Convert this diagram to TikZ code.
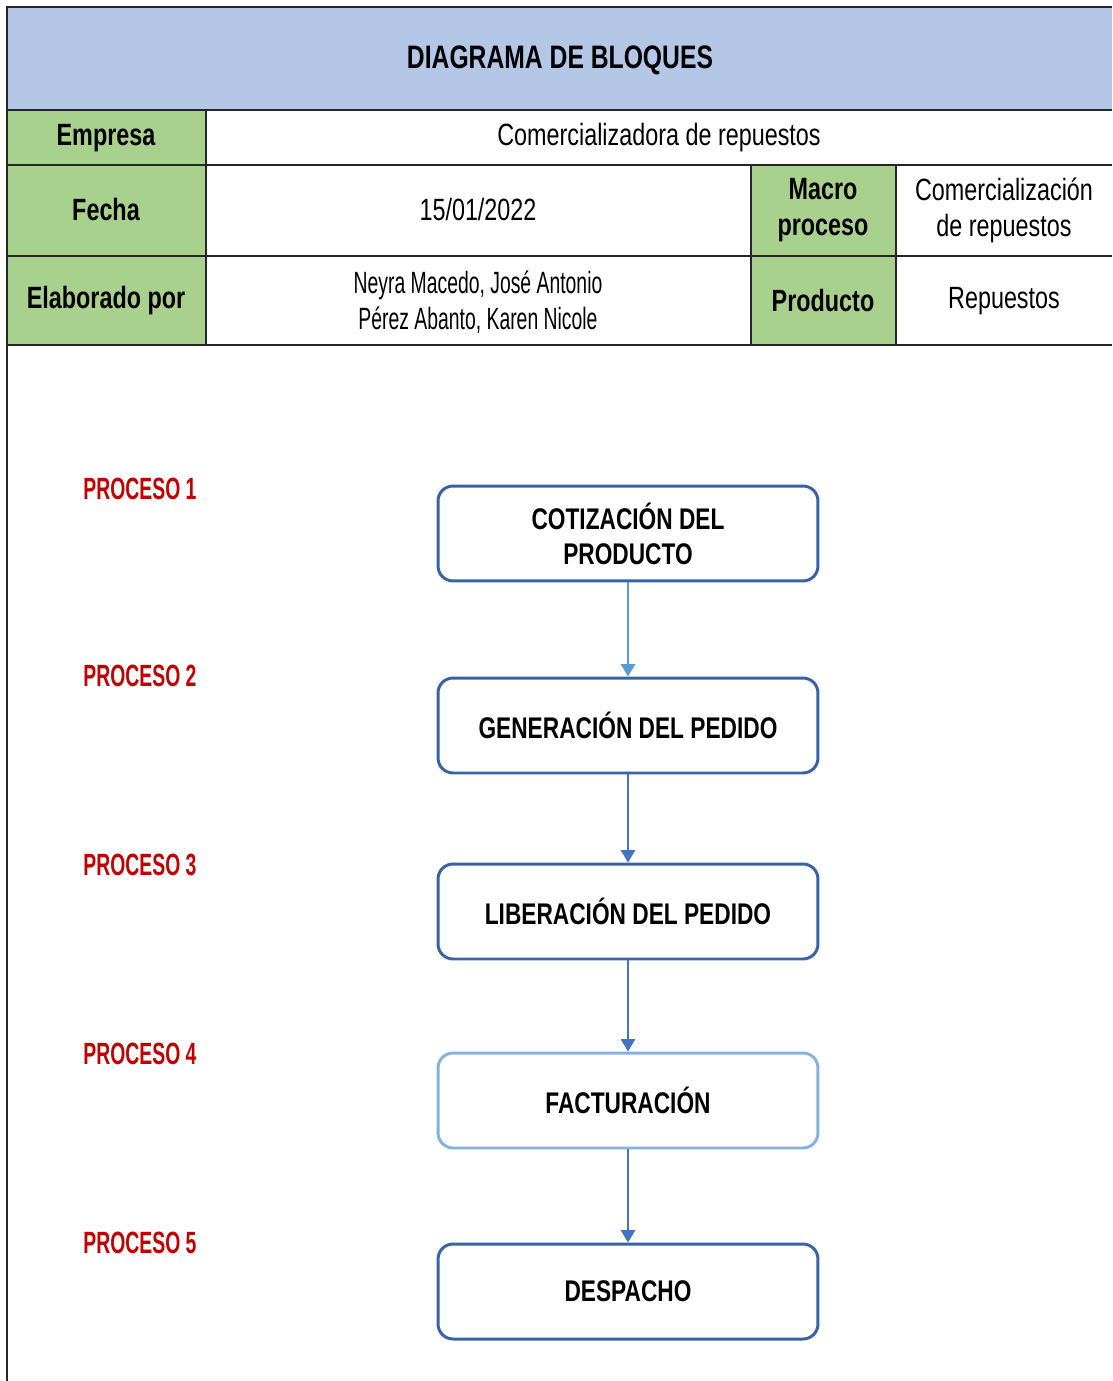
\documentclass[tikz,border=0pt]{standalone}
\usepackage{fontspec}
\setmainfont{Liberation Sans}[FakeStretch=0.76]
\newfontfamily\angosta{Liberation Sans}[FakeStretch=0.63]
\usetikzlibrary{arrows.meta}

\definecolor{cabecera}{HTML}{B4C7E7}
\definecolor{verde}{HTML}{A9D18E}
\definecolor{rojo}{HTML}{C00000}
\definecolor{bordeosc}{HTML}{3A62A7}
\definecolor{bordeclaro}{HTML}{85B2DF}
\definecolor{flechaclara}{HTML}{5B9BD5}
\definecolor{flechaosc}{HTML}{4472C4}

\begin{document}
\begin{tikzpicture}
[x=0.02cm,y=-0.02cm,%
  every node/.style={inner sep=0pt,font=\fontsize{17.5}{20.4}\selectfont},%
  tabla/.style={line width=0.9pt,draw=black!85},%
  titulo/.style={font=\fontsize{18.5}{22}\selectfont\bfseries},%
  campo/.style={font=\fontsize{17.5}{20.4}\selectfont\bfseries,align=center},%
  valor/.style={align=center},%
  nombres/.style={font=\fontsize{17.5}{20.4}\selectfont\angosta,align=center},%
  etiqueta/.style={font=\fontsize{17.5}{20.4}\selectfont\angosta\bfseries,text=rojo},%
  bloque/.style={draw=bordeosc,line width=1.7pt,rounded corners=0.3cm,fill=white,
    minimum width=7.6cm,minimum height=1.9cm,align=center,
    font=\fontsize{17}{20}\selectfont\bfseries},%
  flecha/.style={line width=1.1pt,draw=flechaosc,
    -{Triangle[width=8pt,length=7pt]}}]
\useasboundingbox (0,0) rectangle (1112,1381);

% cabecera
\fill[cabecera] (7,7) rectangle (1112,110);
\fill[verde] (7,110) rectangle (206,345);
\fill[verde] (751,165) rectangle (896,345);
\draw[tabla] (1112,7) -- (7,7) -- (7,1381);
\foreach \y in {110,165,256,345}
  \draw[tabla] (7,\y) -- (1112,\y);
\draw[tabla] (206,110) -- (206,345);
\draw[tabla] (751,165) -- (751,345);
\draw[tabla] (896,165) -- (896,345);

\node[titulo] (titulo) at (560,60) {DIAGRAMA DE BLOQUES};
\node[campo] (empresa) at (106,138) {Empresa};
\node[valor] (empresaV) at (659,138) {Comercializadora de repuestos};
\node[campo] (fecha) at (106,210) {Fecha};
\node[valor] (fechaV) at (478,210) {15/01/2022};
\node[campo] (macro) at (823,210) {Macro\\proceso};
\node[valor] (macroV) at (1004,210) {Comercialización\\de repuestos};
\node[campo] (elaborado) at (106,301) {Elaborado por};
\node[nombres] (elaboradoV) at (478,302) {Neyra Macedo, José Antonio\\Pérez Abanto, Karen Nicole};
\node[campo] (producto) at (823,301) {Producto};
\node[valor] (productoV) at (1004,301) {Repuestos};

% procesos
\node[etiqueta] (p1) at (140,489) {PROCESO 1};
\node[etiqueta] (p2) at (140,676) {PROCESO 2};
\node[etiqueta] (p3) at (140,865) {PROCESO 3};
\node[etiqueta] (p4) at (140,1054) {PROCESO 4};
\node[etiqueta] (p5) at (140,1243) {PROCESO 5};

\node[bloque] (cotizacion) at (628,533.5) {COTIZACIÓN DEL\\PRODUCTO};
\node[bloque] (generacion) at (628,725.5) {GENERACIÓN DEL PEDIDO};
\node[bloque] (liberacion) at (628,911.5) {LIBERACIÓN DEL PEDIDO};
\node[bloque,draw=bordeclaro] (facturacion) at (628,1100.5) {FACTURACIÓN};
\node[bloque] (despacho) at (628,1291.5) {DESPACHO};

\draw[flecha,draw=flechaclara] (cotizacion) -- (generacion);
\draw[flecha] (generacion) -- (liberacion);
\draw[flecha] (liberacion) -- (facturacion);
\draw[flecha] (facturacion) -- (despacho);
\end{tikzpicture}
\end{document}
